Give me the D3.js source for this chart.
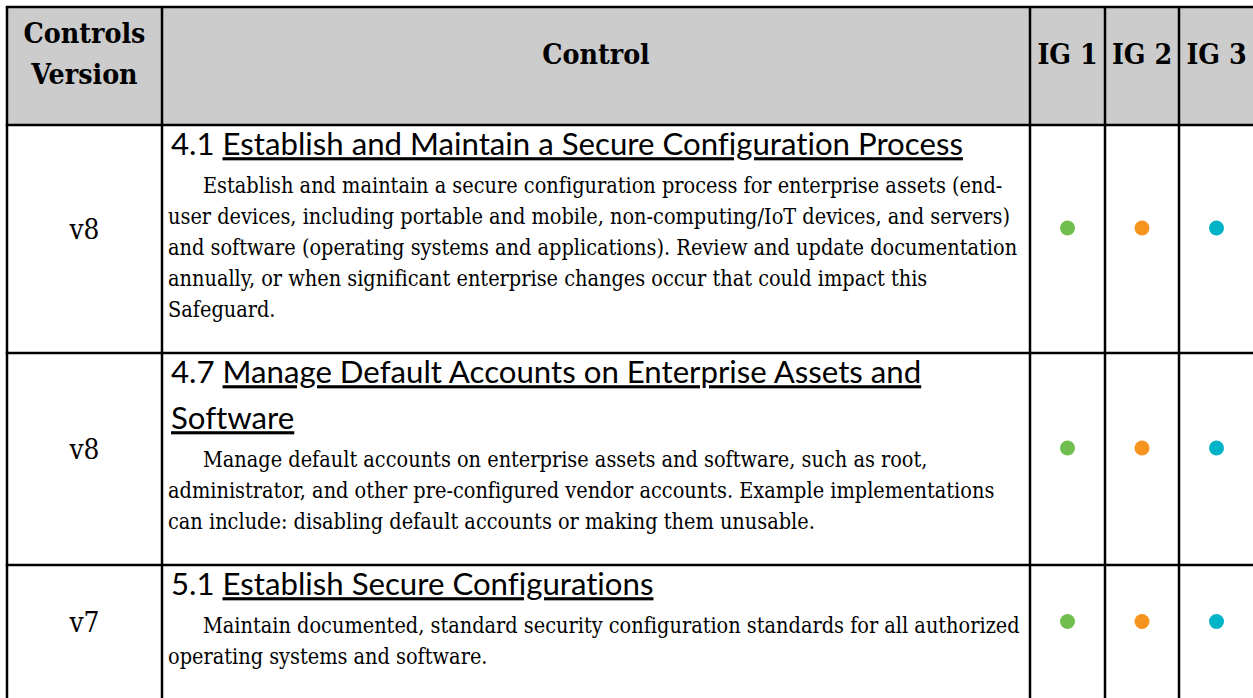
<!DOCTYPE html>
<html>
<head>
<meta charset="utf-8">
<script src="https://cdn.jsdelivr.net/npm/d3@7"></script>
<style>
  html, body { margin: 0; padding: 0; background: #ffffff; overflow: hidden; }
  svg { display: block; }
  text { font-variant-ligatures: none; font-feature-settings: "liga" 0, "clig" 0; }
</style>
</head>
<body>
<svg id="chart" width="1253" height="698"></svg>
<script>
// ---------- data ----------
const headers = ["Controls\nVersion", "Control", "IG 1", "IG 2", "IG 3"];
const versions = ["v8", "v8", "v7"];
const controlIds = ["4.1", "4.7", "5.1"];
const controlTitles = [
  ["Establish and Maintain a Secure Configuration Process"],
  ["Manage Default Accounts on Enterprise Assets and", "Software"],
  ["Establish Secure Configurations"]
];
const descriptions = [
  ["Establish and maintain a secure configuration process for enterprise assets (end-",
   "user devices, including portable and mobile, non-computing/IoT devices, and servers)",
   "and software (operating systems and applications). Review and update documentation",
   "annually, or when significant enterprise changes occur that could impact this",
   "Safeguard."],
  ["Manage default accounts on enterprise assets and software, such as root,",
   "administrator, and other pre-configured vendor accounts. Example implementations",
   "can include: disabling default accounts or making them unusable."],
  ["Maintain documented, standard security configuration standards for all authorized",
   "operating systems and software."]
];
const ig1 = [true, true, true];
const ig2 = [true, true, true];
const ig3 = [true, true, true];
const igColors = ["#70bf4e", "#f7941d", "#00b3c6"];

// ---------- layout ----------
const colEdges = [7, 162, 1030, 1105, 1179, 1256];
const tableTop = 7, headerBottom = 125;
const padTop = 19, titleLH = 46, titleToDesc = 42, descLH = 31, padBottom = 43;
const serif = "'DejaVu Serif Condensed', 'DejaVu Serif', serif";
const sans = "Lato, 'Open Sans', sans-serif";

const svg = d3.select("#chart");

// fit font sizes to reference widths
function fitSize(str, family, weight, target) {
  const t = svg.append("text").attr("font-family", family).attr("font-weight", weight)
    .attr("font-size", 100).text(str);
  const w = t.node().getComputedTextLength();
  t.remove();
  return 100 * target / w;
}
const headSize = fitSize("Controls", serif, "bold", 122);
const titleSize = fitSize("4.1 Establish and Maintain a Secure Configuration Process", sans, "normal", 792);
const descSize = fitSize(descriptions[0][0], serif, "normal", 800);
const verSize = fitSize("v8", serif, "normal", 30);

// rows
const rowHeights = controlTitles.map((t, i) =>
  padTop + (t.length - 1) * titleLH + titleToDesc + (descriptions[i].length - 1) * descLH + padBottom);
const rowTops = [];
rowHeights.reduce((acc, h) => { rowTops.push(acc); return acc + h; }, headerBottom);
const tableBottom = rowTops[rowTops.length - 1] + rowHeights[rowHeights.length - 1];

const y = d3.scaleOrdinal().domain(d3.range(versions.length)).range(rowTops);

// header background
svg.append("rect").attr("x", colEdges[0]).attr("y", tableTop)
  .attr("width", colEdges[5] - colEdges[0]).attr("height", headerBottom - tableTop)
  .attr("fill", "#cccccc");

// header texts
const hg = svg.append("g").attr("font-family", serif).attr("font-weight", "bold")
  .attr("font-size", headSize).attr("fill", "#000").attr("text-anchor", "middle");
headers.forEach((h, i) => {
  const cx = i === 4 ? 1216.5 : (colEdges[i] + colEdges[i + 1]) / 2;
  const lines = h.split("\n");
  const t = hg.append("text");
  if (lines.length === 2) {
    t.append("tspan").attr("x", cx).attr("y", 43).text(lines[0]);
    t.append("tspan").attr("x", cx).attr("y", 84).text(lines[1]);
  } else {
    t.attr("x", cx).attr("y", 64).text(h);
  }
});

// rows
const rows = svg.selectAll("g.row").data(versions).join("g").attr("class", "row");
rows.each(function (v, i) {
  const g = d3.select(this);
  const top = y(i), h = rowHeights[i];
  const mid = top + h / 2 - 10;
  // version
  g.append("text").attr("x", (colEdges[0] + colEdges[1]) / 2).attr("y", mid + verSize * 0.35)
    .attr("text-anchor", "middle").attr("font-family", serif).attr("font-size", verSize)
    .attr("fill", "#000").text(v);
  // title
  const tc = top + padTop;
  controlTitles[i].forEach((line, k) => {
    const t = g.append("text").attr("x", 171).attr("y", tc + k * titleLH + titleSize * 0.36)
      .attr("font-family", sans).attr("font-size", titleSize).attr("fill", "#000");
    if (k === 0) {
      t.append("tspan").text(controlIds[i] + " ");
    }
    t.append("tspan").style("text-decoration", "underline").text(line);
  });
  // description
  const dc = tc + (controlTitles[i].length - 1) * titleLH + titleToDesc;
  descriptions[i].forEach((line, k) => {
    g.append("text").attr("x", k === 0 ? 203 : 168).attr("y", dc + k * descLH + descSize * 0.33)
      .attr("font-family", serif).attr("font-size", descSize).attr("fill", "#000").text(line);
  });
  // IG dots
  [ig1[i], ig2[i], ig3[i]].forEach((on, k) => {
    if (!on) return;
    const cx = k === 2 ? 1216.5 : (colEdges[2 + k] + colEdges[3 + k]) / 2;
    g.append("circle").attr("cx", cx).attr("cy", mid - 1)
      .attr("r", 7.5).attr("fill", igColors[k]);
  });
});

// grid lines
const lg = svg.append("g").attr("stroke", "#000").attr("stroke-width", 2.5);
colEdges.forEach(x => {
  lg.append("line").attr("x1", x).attr("x2", x).attr("y1", tableTop).attr("y2", tableBottom);
});
[tableTop, headerBottom, ...rowTops.slice(1), tableBottom].forEach(yy => {
  lg.append("line").attr("x1", colEdges[0] - 1.25).attr("x2", colEdges[5] + 1.25).attr("y1", yy).attr("y2", yy);
});
</script>
</body>
</html>
